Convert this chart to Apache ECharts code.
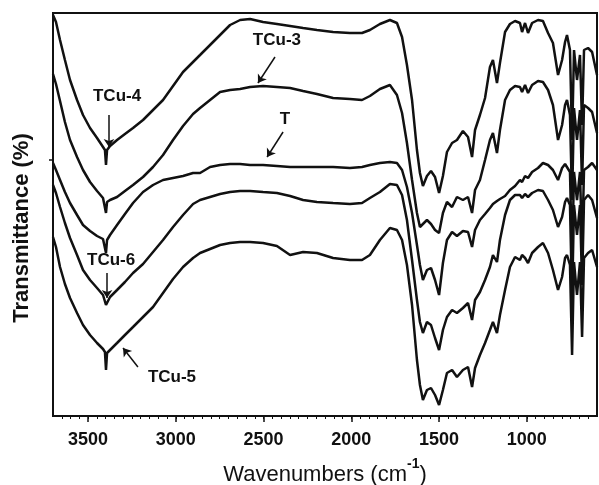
<!DOCTYPE html>
<html>
<head>
<meta charset="utf-8">
<script src="https://cdn.jsdelivr.net/npm/echarts@6/dist/echarts.min.js"></script>
<style>
  html, body { margin: 0; padding: 0; background: #fff; }
  #chart { width: 599px; height: 485px; }
</style>
</head>
<body>
<div id="chart"></div>
<script>
// wavenumber grid (cm-1), shared by all spectra
const wavenumbers = [
  3700, 3683, 3660, 3632, 3603, 3563, 3529, 3489, 3449, 3415,
  3404, 3398, 3392, 3375, 3335, 3290, 3244, 3187, 3130, 3073,
  3016, 2959, 2902, 2862, 2805, 2748, 2691, 2634, 2577, 2503,
  2424, 2349, 2275, 2196, 2104, 2008, 1939, 1894, 1837, 1780,
  1740, 1711, 1683, 1654, 1626, 1609, 1592, 1569, 1546, 1523,
  1500, 1478, 1455, 1426, 1398, 1364, 1335, 1312, 1295, 1267,
  1238, 1210, 1193, 1170, 1153, 1124, 1096, 1067, 1039, 1027,
  1010, 993, 970, 936, 908, 879, 851, 822, 799, 782,
  771, 754, 742, 731, 714, 697, 685, 674, 651, 628,
  600
];

// transmittance, arbitrary offset units (curves stacked top to bottom)
const tcu4 = [
  100.25, 98.5, 94, 89, 84, 79, 75.25, 72, 69.5, 67.25,
  66.5, 62.75, 66.5, 67.5, 69, 70.5, 72, 74, 76.5, 79,
  82.5, 86, 88.5, 90.25, 92.75, 95.25, 97.75, 99, 99.25, 98.5,
  98, 97.5, 97, 96.5, 96, 95.75, 95.75, 96.5, 98, 99,
  98.25, 94.75, 87.75, 79, 66.5, 60.75, 57.5, 60, 61.25, 59.75,
  55.75, 60, 66, 68.25, 69, 71.25, 69.75, 64.75, 71.5, 75.25,
  79.5, 87.25, 89, 83.25, 88.25, 96, 98, 98.75, 98.25, 96,
  98.25, 95.75, 98.25, 99, 98.75, 95.75, 93.25, 85.25, 89, 93.5,
  95.25, 91.5, 69, 91.5, 84, 90.25, 72.75, 91.5, 92, 91,
  85.25
];
const tcu3 = [
  85.5, 83, 78.75, 73.5, 69, 64.75, 61.5, 58.5, 56.25, 54.5,
  54, 50.75, 53.5, 54, 54.75, 56.25, 57.75, 59.75, 62.25, 65.25,
  69, 72.5, 75.5, 77, 79, 81, 81.5, 81.75, 82.25, 82.5,
  82.25, 82, 81.25, 80.5, 79.5, 79.25, 79, 80, 81.75, 82.75,
  80.25, 75.75, 68.25, 59, 50.75, 47.25, 48, 49, 48, 46.5,
  45.75, 50.75, 53.5, 52.25, 54.75, 54, 54.75, 50.75, 56.5, 59,
  64, 69, 70.75, 65.75, 71.5, 79, 81.5, 82.5, 82.25, 81,
  82.75, 80.75, 82.75, 83.75, 83.5, 81.5, 77.75, 69, 72.75, 77.75,
  79, 75.25, 54, 77, 69, 76.5, 57.75, 77.75, 77, 76,
  70.75
];
const tPure = [
  63.25, 61.5, 59, 56, 53.25, 50.25, 47.75, 46.25, 45, 44.25,
  44, 40.75, 44, 45.25, 47.75, 50.5, 53.25, 56, 57.75, 59,
  59.5, 60, 60.75, 60.75, 62.25, 62.75, 63, 63, 62.75, 62.75,
  62.5, 62.25, 62.25, 62.25, 62.25, 62, 62.25, 62.75, 63.25, 63.5,
  63.25, 61.5, 57.25, 50.75, 42.75, 37.75, 34, 36.5, 37, 34,
  30.25, 38.25, 44, 46, 45, 46.25, 46, 42.25, 46.5, 49,
  50.5, 52, 53, 53.75, 54.25, 55, 56.5, 57.5, 59, 58.5,
  60, 59.5, 61, 62, 63.25, 62.75, 61.5, 59, 62, 63,
  63.25, 61, 38.5, 61, 54, 61, 41.5, 61.5, 62.25, 63.25,
  61.5
];
const tcu6 = [
  57.75, 55.75, 52.25, 48.25, 44.5, 40.25, 36.5, 34, 32, 30.25,
  29.75, 27.75, 28.25, 29.75, 31.5, 33.5, 35.75, 38, 41, 44,
  47.25, 50.25, 53, 54, 54.75, 55.5, 56, 56.25, 56.25, 56,
  55.75, 55, 54, 53.5, 53.25, 53, 53.25, 54.5, 56, 58,
  57.75, 55.25, 49, 39, 29, 23.5, 20.75, 23.5, 22.75, 19.5,
  16.5, 21.5, 24.75, 26.5, 25.75, 27, 28.25, 24, 29, 31,
  34, 37.25, 40.25, 38.5, 44, 50.25, 54, 55.25, 55.25, 54.5,
  55.5, 54.75, 55.75, 56.5, 56.25, 54, 51.5, 47.25, 49.75, 53.5,
  54.5, 52.75, 29, 52.75, 45.25, 52.75, 32.75, 54, 55.25, 54,
  49.5
];
const tcu5 = [
  44.75, 42.25, 37.25, 33, 29.5, 25.75, 22.75, 20.25, 18.25, 16.75,
  16, 11.5, 15.75, 16.5, 18.25, 20.25, 22.25, 24.75, 27.25, 30.75,
  34.25, 37.25, 39.5, 40.75, 41.75, 42.75, 43.25, 43.5, 43.5, 43.25,
  42.5, 40.25, 41, 40.75, 39.5, 39, 39, 40.25, 44, 47,
  46.5, 44, 37.75, 27.75, 14, 7.75, 4, 6.5, 7, 5.25,
  2.75, 6.5, 10.75, 11.5, 9.75, 11.5, 12.25, 7.25, 12, 15.25,
  18.25, 21.5, 23.5, 20.75, 25.25, 31.5, 37.25, 39.75, 39, 40.25,
  39.5, 38.25, 40.75, 42.25, 43.25, 40.75, 36.5, 31.5, 34.75, 39.5,
  40.25, 37.75, 15.25, 38.5, 30.25, 38.5, 19.75, 39.5, 40.75, 41.5,
  37.25
];

const spectra = [
  { name: 'TCu-4', values: tcu4 },
  { name: 'TCu-3', values: tcu3 },
  { name: 'T', values: tPure },
  { name: 'TCu-6', values: tcu6 },
  { name: 'TCu-5', values: tcu5 }
];

const majorTicks = [1000, 1500, 2000, 2500, 3000, 3500];
const minorTicks = [];
for (let w = 650; w <= 3650; w += 50) minorTicks.push(w);
const yTicks = [64];

// curve labels: text position and arrow (from -> to), in data units
const notes = [
  { text: 'TCu-4', at: [3335, 80], from: [3381, 75.25], to: [3381, 67.25] },
  { text: 'TCu-3', at: [2424, 94], from: [2435, 89.75], to: [2532, 83.25] },
  { text: 'T', at: [2378, 74.25], from: [2389, 71], to: [2480, 64.75] },
  { text: 'TCu-6', at: [3369, 39], from: [3392, 35.75], to: [3392, 29.5] },
  { text: 'TCu-5', at: [3022, 9.75], from: [3216, 12.25], to: [3301, 17] }
];

const ink = '#111';
const font = 'Arial, "Liberation Sans", sans-serif';

const chart = echarts.init(document.getElementById('chart'));

const option = {
  animation: false,
  grid: {
    left: 53, right: 2, top: 13, bottom: 69,
    outerBoundsMode: 'none',
    containLabel: false,
    show: true, borderColor: ink, borderWidth: 2
  },
  xAxis: [
    {
      type: 'value', inverse: true, min: 600, max: 3700, position: 'bottom',
      axisLine: { show: true, onZero: false, lineStyle: { color: ink, width: 2 } },
      axisTick: { show: true, customValues: majorTicks, length: 6, lineStyle: { color: ink, width: 1.5 } },
      axisLabel: {
        customValues: majorTicks, formatter: v => String(v),
        color: ink, fontSize: 18, fontWeight: 'bold', fontFamily: font, margin: 15
      },
      splitLine: { show: false },
      name: '{t|Wavenumbers (cm}{s|-1}{t|)}',
      nameLocation: 'middle',
      nameGap: 41,
      nameTextStyle: {
        color: ink,
        fontFamily: font,
        rich: {
          t: { fontSize: 22, fontFamily: font, color: ink, lineHeight: 36 },
          s: { fontSize: 14, fontWeight: 'bold', fontFamily: font, color: ink, verticalAlign: 'top' }
        }
      }
    },
    {
      type: 'value', inverse: true, min: 600, max: 3700, position: 'bottom',
      axisLine: { show: false },
      axisTick: { show: true, customValues: minorTicks, length: 3, lineStyle: { color: ink, width: 1 } },
      axisLabel: { show: false },
      splitLine: { show: false }
    }
  ],
  yAxis: {
    type: 'value', min: 0, max: 100.75,
    axisLine: { show: true, onZero: false, lineStyle: { color: ink, width: 2 } },
    axisTick: { show: true, customValues: yTicks, length: 4, lineStyle: { color: ink, width: 1.5 } },
    axisLabel: { show: false },
    splitLine: { show: false }
  },
  graphic: [
    {
      type: 'text', x: 22, y: 228, rotation: Math.PI / 2,
      style: {
        text: 'Transmittance (%)', fill: ink,
        font: 'bold 22px ' + font,
        align: 'center', verticalAlign: 'middle',
        textAlign: 'center', textVerticalAlign: 'middle'
      }
    }
  ],
  series: spectra.map(s => ({
    name: s.name,
    type: 'line',
    xAxisIndex: 0,
    symbol: 'none',
    silent: true,
    data: wavenumbers.map((w, i) => [w, s.values[i]]),
    lineStyle: { color: ink, width: 2.5 }
  })).concat([{
    name: 'notes',
    type: 'scatter',
    xAxisIndex: 0,
    symbolSize: 1,
    silent: true,
    itemStyle: { color: 'rgba(0,0,0,0)' },
    data: notes.map(n => ({ value: n.at, name: n.text })),
    label: {
      show: true, position: 'inside', formatter: '{b}',
      color: ink, opacity: 1, textBorderWidth: 0,
      fontSize: 17, fontWeight: 'bold', fontFamily: font
    },
    markLine: {
      silent: true,
      symbol: ['none', 'arrow'],
      symbolSize: 8,
      label: { show: false },
      lineStyle: { color: ink, width: 1.5, type: 'solid' },
      data: notes.map(n => [{ coord: n.from }, { coord: n.to }])
    }
  }])
};

chart.setOption(option);
window.addEventListener('resize', chart.resize);
</script>
</body>
</html>
